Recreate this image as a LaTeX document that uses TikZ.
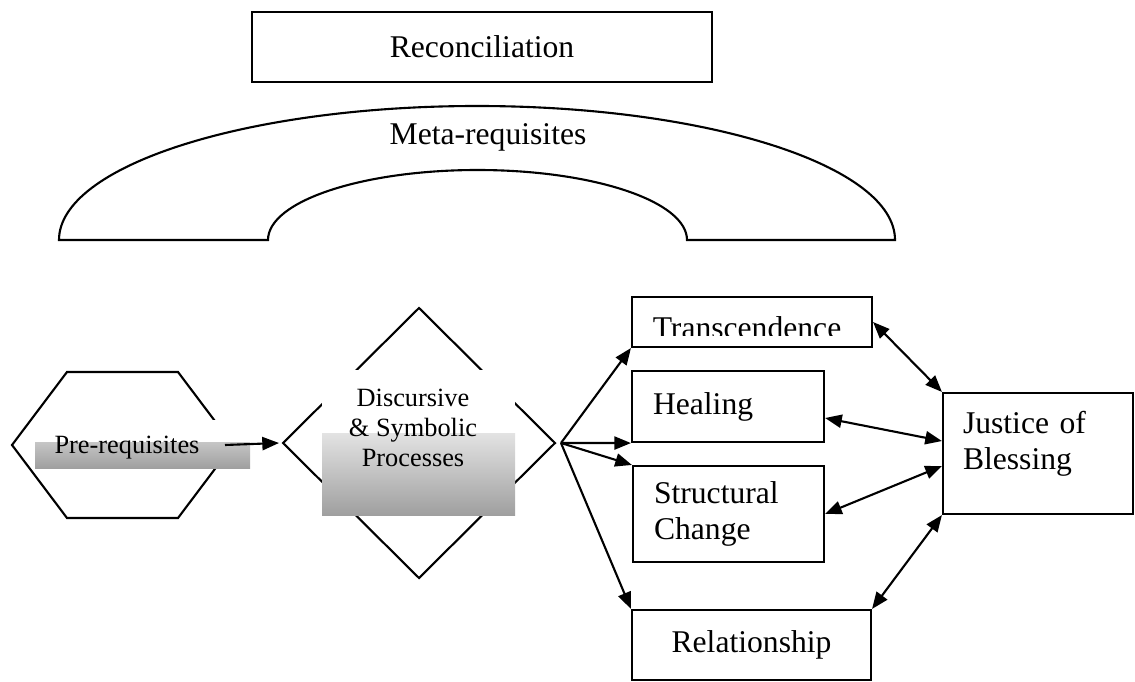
\documentclass[tikz,border=0pt]{standalone}
\usepackage{fontspec}
\setmainfont{Liberation Serif}
\usetikzlibrary{calc, arrows.meta}

\tikzset{
  box/.style={draw, line width=1.2pt, rectangle, inner sep=0pt},
  arr/.style={line width=1.2pt, -{Triangle[length=9.5pt,width=7.5pt]}},
  darr/.style={line width=1.2pt, {Triangle[length=9.5pt,width=7.5pt]}-{Triangle[length=9.5pt,width=7.5pt]}},
  big/.style={font=\fontsize{18}{20.5}\selectfont},
  small/.style={font=\fontsize{15}{17}\selectfont},
}

\begin{document}
\begin{tikzpicture}[x=0.02cm, y=-0.02cm]
			\def\u{0.02cm};

			\clip (0,0) rectangle (1135,682);

			\node [box, big, minimum width={460*\u}, minimum height={70*\u}] (recon) at (482,47) {Reconciliation};

			\begin{scope}[line width=1.2pt]
				\draw (59,240) arc [start angle=180, end angle=0, x radius={418*\u}, y radius={134*\u}]
					-- (687,240) arc [start angle=0, end angle=180, x radius={209.5*\u}, y radius={70*\u}] -- cycle;
			\end{scope}
			\node [big] (meta) at (488,137) {Meta-requisites};

			\coordinate (pre left) at (12,445);
			\coordinate (pre top left) at (67,372);
			\coordinate (pre top right) at (178,372);
			\coordinate (pre right) at (233,445);
			\coordinate (pre bottom right) at (178,518);
			\coordinate (pre bottom left) at (67,518);

			\coordinate (disc top) at (419,308);
			\coordinate (disc right) at (555,443);
			\coordinate (disc bottom) at (419,578);
			\coordinate (disc left) at (283,443);

			\begin{scope}[line width=1.2pt]
				\draw (pre left) -- (pre top left) -- (pre top right) -- (pre right) -- (pre bottom right) -- (pre bottom left) -- cycle;
				\draw (disc top) -- (disc right) -- (disc bottom) -- (disc left) -- cycle;
			\end{scope}

			\begin{scope}
				\fill [white] (35,420) rectangle (250,442);
				\shade [top color=gray!45, bottom color=gray!75] (35,442) rectangle (250,468);
				\node [small] (pre) at (127,448) {Pre-requisites};

				\fill [white] (322,370) rectangle (515,433);
				\shade [top color=gray!22, bottom color=gray!75] (322,433) rectangle (515,515);
				\node [small, align=center] (disc) at (413,428) {Discursive\\\& Symbolic\\Processes};
			\end{scope}

			\node [box, minimum width={240*\u}, minimum height={50*\u}] (trans) at (752,322) {};
			\begin{scope}
				\clip (632,297) rectangle (872,335);
				\node [big, anchor=base] (trans text) at (747,338) {Transcendence};
			\end{scope}

			\node [box, big, minimum width={192*\u}, minimum height={71*\u}, text width={150*\u}, align=left] (heal) at (728,406.5) {Healing};
			\node [box, big, minimum width={191*\u}, minimum height={96*\u}, text width={149*\u}, align=left] (struct) at (728.5,514) {Structural\\Change};
			\node [box, big, minimum width={239*\u}, minimum height={70*\u}] (rel) at (751.5,645) {Relationship};

			\node [box, minimum width={190*\u}, minimum height={121*\u}] (just) at (1038,453.5) {};
			\node [big, text width={150*\u}, align=left] (just text) at ($ (just.center) + (0,-10) $) {Justice of\\Blessing};

			\coordinate (pre out) at (225,445);
			\coordinate (disc out) at (561,443);

			\draw [arr] (pre out) -- ($ (disc left) + (-4,0) $);
			\draw [arr] (disc out) -- (trans.south west);
			\draw [arr] (disc out) -- (heal.south west);
			\draw [arr] (disc out) -- (struct.north west);
			\draw [arr] (disc out) -- (rel.north west);

			\draw [darr] (trans.east) -- (just.north west);
			\draw [darr] ([yshift=-0.23cm]heal.east) -- ([yshift=0.25cm]just.west);
			\draw [darr] (struct.east) -- ([yshift=-0.25cm]just.west);
			\draw [darr] (rel.north east) -- (just.south west);
		\end{tikzpicture}
\end{document}
